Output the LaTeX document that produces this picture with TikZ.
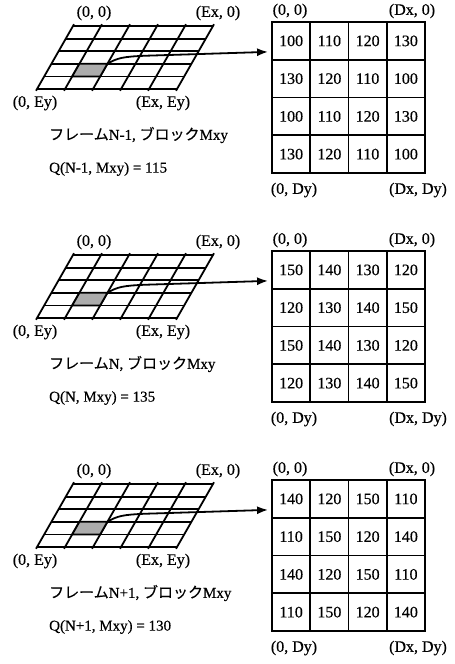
\documentclass[tikz,border=0pt]{standalone}
\usepackage{fontspec}
\setmainfont{Liberation Serif}[FakeBold=0.4]
\newfontfamily\jpfont{Noto Sans CJK JP}[FakeBold=0.3]
\usetikzlibrary{arrows.meta,calc}

\tikzset{
  gridline/.style={line width=1.8pt},
  cell/.style={draw, line width=1.8pt, minimum width=38.25pt, minimum height=37.75pt,
               inner sep=0pt, font=\fontsize{16}{16}\selectfont},
  corner/.style={font=\fontsize{16}{16}\selectfont, inner sep=0pt},
  caption/.style={font=\fontsize{15}{16}\selectfont, anchor=west, inner sep=0pt},
  link/.style={line width=1.8pt, -{Latex[length=11pt,width=8pt]}},
  block/.style={fill=gray!65, draw, line width=1.8pt}
}

% #1 vertical offset, #2 name prefix, #3 frame caption, #4 Q line, #5 block values
\newcommand\framepanel[5]{%
  \begin{scope}[shift={(0,#1)}]
    % points of the sheared 5x5 frame grid
    \foreach \i in {0,...,5}
      \foreach \j in {0,...,5}
        \coordinate (#2p\i\j) at ({73+28*\i-7.2*\j},{26+12.6*\j});
    % frame grid
    \foreach \j in {0,...,5} \draw[gridline] (#2p0\j) -- (#2p5\j);
    \foreach \i in {0,...,5}
      \draw[gridline, shorten <=-2pt, shorten >=-2pt] (#2p\i0) -- (#2p\i5);
    % selected block Mxy
    \draw[block] (#2p13) -- (#2p23) -- (#2p24) -- (#2p14) -- cycle;
    % grid corner labels
    \node[corner] (#2g00) at (94,13) {(0, 0)};
    \node[corner] (#2gx0) at (218,13) {(Ex, 0)};
    \node[corner] (#2g0y) at (35,103) {(0, Ey)};
    \node[corner] (#2gxy) at (163,103) {(Ex, Ey)};
    % captions
    \node[caption] (#2cap) at (49,135) {#3};
    \node[caption] (#2q) at (49,169) {#4};
    % block pixel values
    \foreach \v [count=\k from 0] in {#5} {
      \pgfmathtruncatemacro\r{\k/4}
      \pgfmathtruncatemacro\c{mod(\k,4)}
      \node[cell] (#2c\k) at ({272+38.25*(\c+0.5)},{22+37.75*(\r+0.5)}) {\v};
    }
    % block corner labels
    \node[corner] (#2d00) at (290,11) {(0, 0)};
    \node[corner] (#2dx0) at (412,11) {(Dx, 0)};
    \node[corner] (#2d0y) at (294,190) {(0, Dy)};
    \node[corner] (#2dxy) at (418,190) {(Dx, Dy)};
    % link from the block to its values
    \coordinate (#2in) at ($(#2c0.west)+(-3,11)$);
    \coordinate (#2bend) at ($(#2p23)+(36,-8)$);
    \draw[link] (#2p23) .. controls +(10,-6) and +(-20,1) .. (#2bend) -- (#2in);
  \end{scope}
}

\begin{document}
\begin{tikzpicture}[x=1pt,y=-1pt]
  \useasboundingbox (0,0) rectangle (455,664);
  \framepanel{0}{a}{{\jpfont フレーム}N-1, {\jpfont ブロック}Mxy}{Q(N-1, Mxy) = 115}
    {100,110,120,130,130,120,110,100,100,110,120,130,130,120,110,100}
  \framepanel{229}{b}{{\jpfont フレーム}N, {\jpfont ブロック}Mxy}{Q(N, Mxy) = 135}
    {150,140,130,120,120,130,140,150,150,140,130,120,120,130,140,150}
  \framepanel{458}{c}{{\jpfont フレーム}N+1, {\jpfont ブロック}Mxy}{Q(N+1, Mxy) = 130}
    {140,120,150,110,110,150,120,140,140,120,150,110,110,150,120,140}
\end{tikzpicture}
\end{document}
